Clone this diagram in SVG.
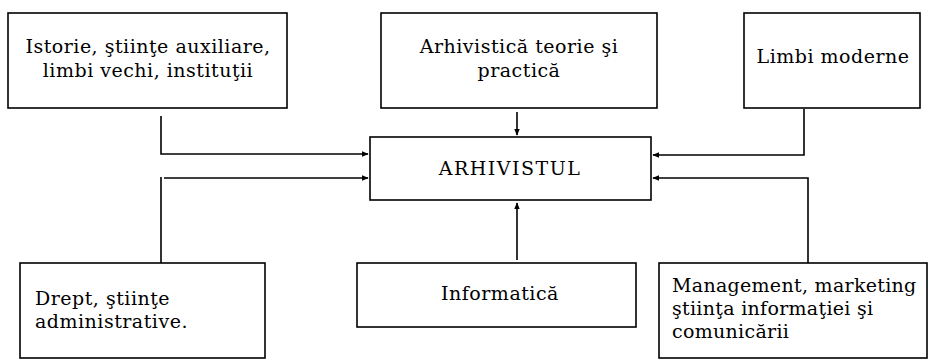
<svg xmlns="http://www.w3.org/2000/svg" width="935" height="361" viewBox="0 0 935 361">
<style>
.box{fill:#fff;stroke:#000;stroke-width:1.6}
.t{font-family:"DejaVu Serif","Liberation Serif",serif;font-size:19px;fill:#000}
.c{text-anchor:middle}
.ln{fill:none;stroke:#000;stroke-width:1.6}
</style>
<defs>
<marker id="ah" viewBox="0 0 10 10" refX="9" refY="5" markerWidth="7" markerHeight="7" orient="auto" markerUnits="userSpaceOnUse">
<path d="M0,1 L10,5 L0,9 Z" fill="#000"/>
</marker>
</defs>
<rect width="935" height="361" fill="#fff"/>
<g id="connectors">
<path class="ln" d="M161,116 V154 H368" marker-end="url(#ah)"/>
<path class="ln" d="M161,263 V177 M164,178 H368" marker-end="url(#ah)"/>
<path class="ln" d="M804,109 V155 H653" marker-end="url(#ah)"/>
<path class="ln" d="M808,263 V178 H653" marker-end="url(#ah)"/>
<path class="ln" d="M517,112 V135" marker-end="url(#ah)"/>
<path class="ln" d="M517,260 V203" marker-end="url(#ah)"/>
</g>
<g id="istorie">
<rect class="box" x="8" y="13" width="279" height="95"/>
<text class="t c" x="148" y="53" letter-spacing="0.5">Istorie, ştiinţe auxiliare,</text>
<text class="t c" x="148" y="77" letter-spacing="0.5">limbi vechi, instituţii</text>
</g>
<g id="arhivistica">
<rect class="box" x="381" y="13" width="276" height="95"/>
<text class="t c" x="519" y="53" letter-spacing="0.5">Arhivistică teorie şi</text>
<text class="t c" x="519" y="77" letter-spacing="0.5">practică</text>
</g>
<g id="limbi">
<rect class="box" x="744" y="13" width="176" height="95"/>
<text class="t c" x="833" y="63" letter-spacing="0.5">Limbi moderne</text>
</g>
<g id="arhivistul">
<rect class="box" x="370" y="137" width="281" height="63"/>
<text class="t c" x="510" y="175" letter-spacing="1.5">ARHIVISTUL</text>
</g>
<g id="drept">
<rect class="box" x="20" y="263" width="245" height="95"/>
<text class="t" x="35" y="305" letter-spacing="0.5">Drept, ştiinţe</text>
<text class="t" x="35" y="328" letter-spacing="0.5">administrative.</text>
</g>
<g id="informatica">
<rect class="box" x="357" y="263" width="279" height="64"/>
<text class="t c" x="500" y="300" letter-spacing="0.5">Informatică</text>
</g>
<g id="management">
<rect class="box" x="659" y="263" width="268" height="95"/>
<text class="t" x="672" y="292" letter-spacing="0.3">Management, marketing</text>
<text class="t" x="672" y="315" letter-spacing="0.3">ştiinţa informaţiei şi</text>
<text class="t" x="672" y="338" letter-spacing="0.3">comunicării</text>
</g>
</svg>
